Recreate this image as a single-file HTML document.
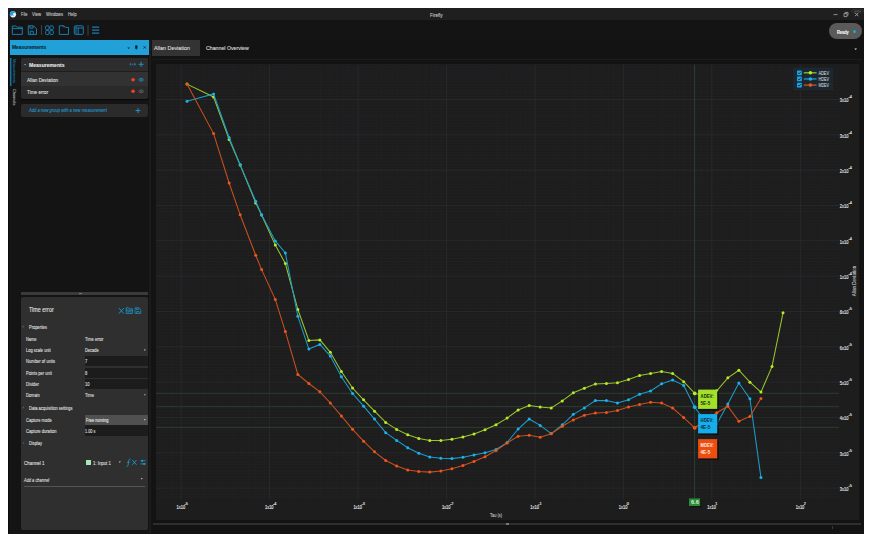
<!DOCTYPE html>
<html><head><meta charset="utf-8">
<style>
html,body{margin:0;padding:0;background:#fff;width:877px;height:543px;overflow:hidden;}
*{box-sizing:border-box;}
body{font-family:"Liberation Sans",sans-serif;color:#e6e6e6;position:relative;}
.a{position:absolute;}
.t,.v{position:absolute;white-space:nowrap;line-height:1;}
.t{transform-origin:0 50%;-webkit-text-stroke:0.08px currentColor;}
</style></head><body>
<!-- window -->
<div class="a" style="left:8px;top:8px;width:856px;height:526px;background:#131313;"></div>
<!-- title bar -->
<div class="a" style="left:8px;top:8px;width:856px;height:12px;background:#1f1f1f;"></div>
<!-- toolbar -->
<div class="a" style="left:8px;top:20px;width:856px;height:19px;background:#141414;"></div>


<!-- title content -->
<svg class="a" style="left:0;top:0" width="877" height="40" viewBox="0 0 877 40">
<circle cx="13" cy="14.3" r="3.1" fill="#e8f4fa"/>
<path d="M13 11.2a3.1 3.1 0 0 0 0 6.2a1.55 1.55 0 0 0 0-3.1a1.55 1.55 0 0 1 0-3.1z" fill="#1b9fe0" transform="rotate(90 13 14.3)"/>
<circle cx="13.1" cy="15.6" r="0.75" fill="#f0a0a0"/>
<g fill="none" stroke="#197cae" stroke-width="1">
<path d="M12.3 34.4V26h3.6l1.2 1.2h5.2v7.2z M12.3 28.6h10"/>
<path d="M28.3 25.8h5.2l3 3v5.6h-8.2z M30 25.8v2.4h3v-2.4 M30.3 34.4v-3.2h3v3.2"/>
<rect x="45.6" y="25.8" width="3.4" height="3.9" rx="0.9"/><rect x="49.9" y="25.8" width="3.4" height="3.9" rx="0.9"/>
<rect x="45.6" y="30.6" width="3.4" height="3.9" rx="0.9"/><rect x="49.9" y="30.6" width="3.4" height="3.9" rx="0.9"/>
<path d="M59.3 25.8h4.6l1.4 1.6h3.2v7h-9.2z M63.9 25.8v1.6"/>
<rect x="74.3" y="25.8" width="9" height="8.6" rx="1"/><path d="M76 26v8.2 M76 28h7.2 M78.2 28v6.2"/>
<path d="M92 27.1h7.2 M92 30.1h7.2 M92 33.1h7.2" stroke-width="1.3"/>
</g>
<path d="M41.5 25v10 M88 25v10.5" stroke="#3c3c3c" stroke-width="1.2"/>
<rect x="851.7" y="9.4" width="11.7" height="3.4" rx="0.8" fill="#262626" stroke="#3a3a3a" stroke-width="0.5"/><path d="M854 11.1h7" stroke="#777" stroke-width="0.6"/>
<path d="M833.5 14.6h4" stroke="#9a9a9a" stroke-width="0.9"/>
<path d="M844 13.6h3v3h-3z M845 13.2v-0.8h3v3h-0.6" stroke="#a8a8a8" stroke-width="0.8" fill="none"/>
<path d="M855 12.8l3.4 3.4 M858.4 12.8l-3.4 3.4" stroke="#a8a8a8" stroke-width="0.9"/>
</svg>

<!-- left panel header -->
<div class="a" style="left:10px;top:40px;width:140.5px;height:15px;background:#22a0d8;"></div>

<!-- left panel body -->
<div class="a" style="left:9px;top:55px;width:142px;height:479px;background:#141414;"></div>

<!-- measurements card -->
<div class="a" style="left:21px;top:58px;width:127px;height:41px;background:#2a2a2a;border-radius:2px;box-shadow:0 1px 1px rgba(0,0,0,0.6);"></div>
<div class="a" style="left:21px;top:58px;width:127px;height:13px;background:#2d2d2d;border-radius:2px 2px 0 0;"></div>
<div class="a" style="left:21px;top:71px;width:127px;height:1px;background:#1e1e1e;"></div>
<div class="a" style="left:21px;top:72px;width:127px;height:13.5px;background:#323232;"></div>
<!-- add card -->
<div class="a" style="left:21px;top:104px;width:127px;height:13px;background:#2b2b2b;border-radius:2px;"></div>

<!-- splitter -->
<div class="a" style="left:21px;top:292px;width:127px;height:3px;background:#3a3a3a;"></div>
<!-- time error card -->
<div class="a" style="left:21px;top:297px;width:127px;height:233px;background:#2f2f2f;border-radius:2px;"></div>


<!-- left panel content -->
<div class="a" style="left:8px;top:40px;width:1px;height:494px;background:#0c0c0c;"></div>
<svg class="a" style="left:0;top:0" width="160" height="540" viewBox="0 0 160 540">
<path d="M127.4 47.4h2.6l-1.3 1.5z" fill="#0e2230"/>
<path d="M135.5 45.8h1.6v2.6h-1.6z M136.3 48.4v1.2" stroke="#0e2230" stroke-width="0.7" fill="#0e2230"/>
<path d="M143.6 46.3l2.2 2.2 M145.8 46.3l-2.2 2.2" stroke="#0e2230" stroke-width="0.8"/>
<path d="M10.8 58v28" stroke="#1d9ad4" stroke-width="1"/>
<!-- card header icons -->
<path d="M24 65.2l1.1-1.1l1.1 1.1" stroke="#c8c8c8" stroke-width="0.6" fill="none"/>
<path d="M130 64.3h1.2 M134.3 64.3h1.2 M131.2 63l-1.2 1.3l1.2 1.3 M134.3 63l1.2 1.3l-1.2 1.3 M132 64.3h1.6" stroke="#1f9ad6" stroke-width="0.7" fill="none"/>
<path d="M138.6 64.3h5 M141.1 61.8v5" stroke="#1f9ad6" stroke-width="0.9"/>
<circle cx="133.1" cy="79.7" r="1.8" fill="#f0402a"/>
<ellipse cx="141.2" cy="79.7" rx="2.2" ry="1.4" fill="none" stroke="#1d8fc4" stroke-width="0.8"/><circle cx="141.2" cy="79.7" r="0.8" fill="#1d8fc4"/>
<circle cx="133.1" cy="91.3" r="1.8" fill="#f0402a"/>
<ellipse cx="141.2" cy="91.3" rx="2.2" ry="1.4" fill="none" stroke="#666" stroke-width="0.8"/><circle cx="141.2" cy="91.3" r="0.8" fill="#666"/>
<path d="M135.5 110.6h5 M138 108.1v5" stroke="#1f9ad6" stroke-width="0.9"/>
</svg>


<!-- vertical tabs -->
<div class="v" style="left:16.4px;top:58.6px;font-size:4.3px;color:#1d9ad4;transform-origin:0 0;transform:rotate(90deg) scaleX(0.84);">Measurements</div>
<div class="v" style="left:16.4px;top:89px;font-size:4.3px;color:#e0e0e0;transform-origin:0 0;transform:rotate(90deg) scaleX(0.9);">Channels</div>
<!-- bottom card widgets -->
<div class="a" style="left:84.6px;top:356.4px;width:63.4px;height:10.1px;background:#1c1c1c;"></div>
<div class="a" style="left:84.6px;top:367.8px;width:63.4px;height:9.9px;background:#1c1c1c;"></div>
<div class="a" style="left:84.6px;top:379px;width:63.4px;height:10px;background:#1c1c1c;"></div>
<div class="a" style="left:84.6px;top:414.6px;width:63.4px;height:10.3px;background:#505050;"></div>
<div class="a" style="left:84.6px;top:425px;width:63.4px;height:10.7px;background:#1c1c1c;"></div>
<div class="a" style="left:85.8px;top:459.7px;width:5px;height:5.5px;background:#a8e8b0;"></div>
<div class="a" style="left:24px;top:486px;width:121px;height:0.8px;background:#555;"></div>
<svg class="a" style="left:0;top:280px" width="160" height="260" viewBox="0 280 160 260">
<path d="M79 293.6h3" stroke="#8a8a8a" stroke-width="0.8"/>
<path d="M118.9 308l5 5.7 M123.9 308l-5 5.7" stroke="#1a9ad0" stroke-width="0.9"/>
<path d="M126.2 313.4v-5.6h2.4l0.8 1h3v4.6z M126.2 310.2h6.2 M127.4 311.8h4" stroke="#1a9ad0" stroke-width="0.8" fill="none"/>
<path d="M135 307.8h3.8l2 2v3.6h-5.8z M136.3 307.8v1.8h2v-1.8 M136.5 313.4v-2h2.6v2" stroke="#1a9ad0" stroke-width="0.7" fill="none"/>
<path d="M22.2 326.2l1 1l1-1" stroke="#777" stroke-width="0.5" fill="none" transform="rotate(-45 23.2 326.6)"/>
<path d="M22.2 407.1l1 1l1-1" stroke="#777" stroke-width="0.5" fill="none" transform="rotate(-45 23.2 407.5)"/>
<path d="M23 442.1l1 1l-1 1" stroke="#777" stroke-width="0.5" fill="none"/>
<path d="M143.7 349.6h2.2l-1.1 1.2z M143.7 394.4h2.2l-1.1 1.2z M143.7 419.3h2.2l-1.1 1.2z M118.7 461.6h2.2l-1.1 1.2z M140.6 478.3h2.2l-1.1 1.2z" fill="#d8d8d8"/>
<path d="M126.3 466.3c1 0.4 1.6-0.2 1.8-1.4l0.7-4.4c0.2-1.2 0.8-1.7 1.8-1.3 M126.8 462.2h2.8" stroke="#1a9ad0" stroke-width="0.8" fill="none"/>
<path d="M132.3 460l4.2 4.8 M136.5 460l-4.2 4.8" stroke="#1a9ad0" stroke-width="0.9"/>
<path d="M140.4 460.8h5.4 M140.4 463.9h5.4" stroke="#1a9ad0" stroke-width="0.8"/>
<rect x="141.2" y="459.9" width="1.8" height="1.8" fill="#1a9ad0"/><rect x="143.2" y="463" width="1.8" height="1.8" fill="#1a9ad0"/>
</svg>

<!-- tabs -->
<div class="a" style="left:152px;top:40px;width:48px;height:16px;background:#333;"></div>

<!-- chart panel -->
<div class="a" style="left:149px;top:40px;width:2px;height:493px;background:#1b1b1b;"></div>
<div class="a" style="left:153px;top:59px;width:709px;height:464px;background:#131313;border-top:1px solid #1d1d1d;"></div>
<div class="a" style="left:156px;top:64px;width:703px;height:456px;background:#1d1d1e;"></div>

<svg class="a" style="left:0;top:0" width="877" height="543" viewBox="0 0 877 543">
<path d="M159.89 64.5V499.5M166.05 64.5V499.5M171.38 64.5V499.5M176.09 64.5V499.5M204.45 64.5V499.5M220.66 64.5V499.5M232.15 64.5V499.5M241.07 64.5V499.5M248.35 64.5V499.5M254.51 64.5V499.5M259.84 64.5V499.5M264.55 64.5V499.5M292.91 64.5V499.5M309.12 64.5V499.5M320.61 64.5V499.5M329.53 64.5V499.5M336.81 64.5V499.5M342.97 64.5V499.5M348.30 64.5V499.5M353.01 64.5V499.5M381.37 64.5V499.5M397.58 64.5V499.5M409.07 64.5V499.5M417.99 64.5V499.5M425.27 64.5V499.5M431.43 64.5V499.5M436.76 64.5V499.5M441.47 64.5V499.5M469.83 64.5V499.5M486.04 64.5V499.5M497.53 64.5V499.5M506.45 64.5V499.5M513.73 64.5V499.5M519.89 64.5V499.5M525.22 64.5V499.5M529.93 64.5V499.5M558.29 64.5V499.5M574.50 64.5V499.5M585.99 64.5V499.5M594.91 64.5V499.5M602.19 64.5V499.5M608.35 64.5V499.5M613.68 64.5V499.5M618.39 64.5V499.5M646.75 64.5V499.5M662.96 64.5V499.5M674.45 64.5V499.5M683.37 64.5V499.5M690.65 64.5V499.5M696.81 64.5V499.5M702.14 64.5V499.5M706.85 64.5V499.5M735.21 64.5V499.5M751.42 64.5V499.5M762.91 64.5V499.5M771.83 64.5V499.5M779.11 64.5V499.5M785.27 64.5V499.5M790.60 64.5V499.5M795.31 64.5V499.5M823.67 64.5V499.5M156 67.11H839M156 70.06H839M156 73.00H839M156 75.95H839M156 78.89H839M156 81.84H839M156 84.78H839M156 87.72H839M156 90.67H839M156 93.61H839M156 96.56H839M156 102.44H839M156 105.39H839M156 108.33H839M156 111.28H839M156 114.22H839M156 117.16H839M156 120.11H839M156 123.05H839M156 126.00H839M156 128.94H839M156 131.89H839M156 137.77H839M156 140.72H839M156 143.66H839M156 146.61H839M156 149.55H839M156 152.49H839M156 155.44H839M156 158.38H839M156 161.33H839M156 164.27H839M156 167.22H839M156 173.10H839M156 176.05H839M156 178.99H839M156 181.94H839M156 184.88H839M156 187.82H839M156 190.77H839M156 193.71H839M156 196.66H839M156 199.60H839M156 202.55H839M156 208.43H839M156 211.38H839M156 214.32H839M156 217.27H839M156 220.21H839M156 223.16H839M156 226.10H839M156 229.04H839M156 231.99H839M156 234.93H839M156 237.88H839M156 243.76H839M156 246.71H839M156 249.65H839M156 252.60H839M156 255.54H839M156 258.49H839M156 261.43H839M156 264.37H839M156 267.32H839M156 270.26H839M156 273.21H839M156 279.09H839M156 282.04H839M156 284.98H839M156 287.93H839M156 290.87H839M156 293.81H839M156 296.76H839M156 299.70H839M156 302.65H839M156 305.59H839M156 308.54H839M156 314.42H839M156 317.37H839M156 320.31H839M156 323.26H839M156 326.20H839M156 329.15H839M156 332.09H839M156 335.03H839M156 337.98H839M156 340.92H839M156 343.87H839M156 349.75H839M156 352.70H839M156 355.64H839M156 358.59H839M156 361.53H839M156 364.48H839M156 367.42H839M156 370.36H839M156 373.31H839M156 376.25H839M156 379.20H839M156 385.08H839M156 388.03H839M156 390.97H839M156 393.92H839M156 396.86H839M156 399.81H839M156 402.75H839M156 405.69H839M156 408.64H839M156 411.58H839M156 414.53H839M156 420.41H839M156 423.36H839M156 426.30H839M156 429.25H839M156 432.19H839M156 435.13H839M156 438.08H839M156 441.02H839M156 443.97H839M156 446.91H839M156 449.86H839M156 455.74H839M156 458.69H839M156 461.63H839M156 464.58H839M156 467.52H839M156 470.46H839M156 473.41H839M156 476.35H839M156 479.30H839M156 482.24H839M156 485.19H839M156 491.07H839M156 494.02H839M156 496.96H839" stroke="#212122" stroke-width="1" fill="none"/>
<path d="M181.10 64.5V499.5M269.56 64.5V499.5M358.02 64.5V499.5M446.48 64.5V499.5M534.94 64.5V499.5M623.40 64.5V499.5M711.86 64.5V499.5M800.32 64.5V499.5M156 99.50H839M156 134.83H839M156 170.16H839M156 205.49H839M156 240.82H839M156 276.15H839M156 311.48H839M156 346.81H839M156 382.14H839M156 417.47H839M156 452.80H839M156 488.13H839" stroke="#29292b" stroke-width="1" fill="none"/>
<path d="M156 393.3H839M156 406.7H839M156 427.4H839" stroke="#2b3d2e" stroke-width="1" fill="none"/>
<path d="M694.6 64.5V498" stroke="#274330" stroke-width="1" fill="none"/>
<polyline points="187.00,84.1 213.58,97.0 229.13,139.4 240.16,165.1 255.71,202.9 261.62,215 275.30,245.1 285.36,263.5 297.84,309.5 308.87,340.4 319.90,339.9 330.33,352.3 341.37,371.5 352.57,388 363.60,399.8 374.54,411.2 385.71,422.4 396.69,429.4 407.72,434.7 418.82,438.4 429.80,440.4 440.87,440.4 451.90,439.3 462.95,437.1 473.97,434 485.01,429.7 496.05,424.8 507.09,418.1 518.12,410 529.16,405.5 540.20,407 551.24,407.9 562.28,400.9 573.31,392.8 584.35,388.2 595.39,384 606.42,383.5 617.46,382.8 628.50,379.5 639.54,375.4 650.58,373.4 661.61,371.5 672.65,373.4 683.69,381.7 694.72,393.4 705.76,396 716.80,390.8 727.84,377.8 738.87,370.2 749.91,382.2 760.95,392.1 771.99,366.6 783.02,312.8" fill="none" stroke="#98c52c" stroke-width="1.05"/><circle cx="187.00" cy="84.1" r="1.5" fill="#b6ec22"/><circle cx="213.58" cy="97.0" r="1.5" fill="#b6ec22"/><circle cx="229.13" cy="139.4" r="1.5" fill="#b6ec22"/><circle cx="240.16" cy="165.1" r="1.5" fill="#b6ec22"/><circle cx="255.71" cy="202.9" r="1.5" fill="#b6ec22"/><circle cx="261.62" cy="215" r="1.5" fill="#b6ec22"/><circle cx="275.30" cy="245.1" r="1.5" fill="#b6ec22"/><circle cx="285.36" cy="263.5" r="1.5" fill="#b6ec22"/><circle cx="297.84" cy="309.5" r="1.5" fill="#b6ec22"/><circle cx="308.87" cy="340.4" r="1.5" fill="#b6ec22"/><circle cx="319.90" cy="339.9" r="1.5" fill="#b6ec22"/><circle cx="330.33" cy="352.3" r="1.5" fill="#b6ec22"/><circle cx="341.37" cy="371.5" r="1.5" fill="#b6ec22"/><circle cx="352.57" cy="388" r="1.5" fill="#b6ec22"/><circle cx="363.60" cy="399.8" r="1.5" fill="#b6ec22"/><circle cx="374.54" cy="411.2" r="1.5" fill="#b6ec22"/><circle cx="385.71" cy="422.4" r="1.5" fill="#b6ec22"/><circle cx="396.69" cy="429.4" r="1.5" fill="#b6ec22"/><circle cx="407.72" cy="434.7" r="1.5" fill="#b6ec22"/><circle cx="418.82" cy="438.4" r="1.5" fill="#b6ec22"/><circle cx="429.80" cy="440.4" r="1.5" fill="#b6ec22"/><circle cx="440.87" cy="440.4" r="1.5" fill="#b6ec22"/><circle cx="451.90" cy="439.3" r="1.5" fill="#b6ec22"/><circle cx="462.95" cy="437.1" r="1.5" fill="#b6ec22"/><circle cx="473.97" cy="434" r="1.5" fill="#b6ec22"/><circle cx="485.01" cy="429.7" r="1.5" fill="#b6ec22"/><circle cx="496.05" cy="424.8" r="1.5" fill="#b6ec22"/><circle cx="507.09" cy="418.1" r="1.5" fill="#b6ec22"/><circle cx="518.12" cy="410" r="1.5" fill="#b6ec22"/><circle cx="529.16" cy="405.5" r="1.5" fill="#b6ec22"/><circle cx="540.20" cy="407" r="1.5" fill="#b6ec22"/><circle cx="551.24" cy="407.9" r="1.5" fill="#b6ec22"/><circle cx="562.28" cy="400.9" r="1.5" fill="#b6ec22"/><circle cx="573.31" cy="392.8" r="1.5" fill="#b6ec22"/><circle cx="584.35" cy="388.2" r="1.5" fill="#b6ec22"/><circle cx="595.39" cy="384" r="1.5" fill="#b6ec22"/><circle cx="606.42" cy="383.5" r="1.5" fill="#b6ec22"/><circle cx="617.46" cy="382.8" r="1.5" fill="#b6ec22"/><circle cx="628.50" cy="379.5" r="1.5" fill="#b6ec22"/><circle cx="639.54" cy="375.4" r="1.5" fill="#b6ec22"/><circle cx="650.58" cy="373.4" r="1.5" fill="#b6ec22"/><circle cx="661.61" cy="371.5" r="1.5" fill="#b6ec22"/><circle cx="672.65" cy="373.4" r="1.5" fill="#b6ec22"/><circle cx="683.69" cy="381.7" r="1.5" fill="#b6ec22"/><circle cx="694.72" cy="393.4" r="1.9" fill="#b6ec22"/><circle cx="705.76" cy="396" r="1.5" fill="#b6ec22"/><circle cx="716.80" cy="390.8" r="1.5" fill="#b6ec22"/><circle cx="727.84" cy="377.8" r="1.5" fill="#b6ec22"/><circle cx="738.87" cy="370.2" r="1.5" fill="#b6ec22"/><circle cx="749.91" cy="382.2" r="1.5" fill="#b6ec22"/><circle cx="760.95" cy="392.1" r="1.5" fill="#b6ec22"/><circle cx="771.99" cy="366.6" r="1.5" fill="#b6ec22"/><circle cx="783.02" cy="312.8" r="1.5" fill="#b6ec22"/>
<polyline points="187.00,101.2 213.58,94.0 229.13,137.5 240.16,164.6 255.71,201.2 261.62,214.7 275.30,240.9 285.36,253.0 297.84,316.3 308.87,349.1 319.90,344.5 330.33,356.1 341.37,376.7 352.57,393.5 363.60,406.2 374.54,419.1 385.71,432.7 396.69,440.4 407.72,447.8 418.82,453.3 429.80,457 440.87,458.3 451.90,458.6 462.95,457.3 473.97,455.1 485.01,452.7 496.05,449.4 507.09,442.6 518.12,429 529.16,419 540.20,425.4 551.24,433.6 562.28,424.8 573.31,414.3 584.35,407.9 595.39,400.6 606.42,400.6 617.46,403 628.50,399.7 639.54,394.2 650.58,390.9 661.61,383.7 672.65,380 683.69,385.4 694.72,407.2 705.76,422 716.80,424 727.84,403.9 738.87,383 749.91,398.7 760.95,477.4" fill="none" stroke="#1d9ccc" stroke-width="1.05"/><circle cx="187.00" cy="101.2" r="1.5" fill="#18b2ee"/><circle cx="213.58" cy="94.0" r="1.5" fill="#18b2ee"/><circle cx="229.13" cy="137.5" r="1.5" fill="#18b2ee"/><circle cx="240.16" cy="164.6" r="1.5" fill="#18b2ee"/><circle cx="255.71" cy="201.2" r="1.5" fill="#18b2ee"/><circle cx="261.62" cy="214.7" r="1.5" fill="#18b2ee"/><circle cx="275.30" cy="240.9" r="1.5" fill="#18b2ee"/><circle cx="285.36" cy="253.0" r="1.5" fill="#18b2ee"/><circle cx="297.84" cy="316.3" r="1.5" fill="#18b2ee"/><circle cx="308.87" cy="349.1" r="1.5" fill="#18b2ee"/><circle cx="319.90" cy="344.5" r="1.5" fill="#18b2ee"/><circle cx="330.33" cy="356.1" r="1.5" fill="#18b2ee"/><circle cx="341.37" cy="376.7" r="1.5" fill="#18b2ee"/><circle cx="352.57" cy="393.5" r="1.5" fill="#18b2ee"/><circle cx="363.60" cy="406.2" r="1.5" fill="#18b2ee"/><circle cx="374.54" cy="419.1" r="1.5" fill="#18b2ee"/><circle cx="385.71" cy="432.7" r="1.5" fill="#18b2ee"/><circle cx="396.69" cy="440.4" r="1.5" fill="#18b2ee"/><circle cx="407.72" cy="447.8" r="1.5" fill="#18b2ee"/><circle cx="418.82" cy="453.3" r="1.5" fill="#18b2ee"/><circle cx="429.80" cy="457" r="1.5" fill="#18b2ee"/><circle cx="440.87" cy="458.3" r="1.5" fill="#18b2ee"/><circle cx="451.90" cy="458.6" r="1.5" fill="#18b2ee"/><circle cx="462.95" cy="457.3" r="1.5" fill="#18b2ee"/><circle cx="473.97" cy="455.1" r="1.5" fill="#18b2ee"/><circle cx="485.01" cy="452.7" r="1.5" fill="#18b2ee"/><circle cx="496.05" cy="449.4" r="1.5" fill="#18b2ee"/><circle cx="507.09" cy="442.6" r="1.5" fill="#18b2ee"/><circle cx="518.12" cy="429" r="1.5" fill="#18b2ee"/><circle cx="529.16" cy="419" r="1.5" fill="#18b2ee"/><circle cx="540.20" cy="425.4" r="1.5" fill="#18b2ee"/><circle cx="551.24" cy="433.6" r="1.5" fill="#18b2ee"/><circle cx="562.28" cy="424.8" r="1.5" fill="#18b2ee"/><circle cx="573.31" cy="414.3" r="1.5" fill="#18b2ee"/><circle cx="584.35" cy="407.9" r="1.5" fill="#18b2ee"/><circle cx="595.39" cy="400.6" r="1.5" fill="#18b2ee"/><circle cx="606.42" cy="400.6" r="1.5" fill="#18b2ee"/><circle cx="617.46" cy="403" r="1.5" fill="#18b2ee"/><circle cx="628.50" cy="399.7" r="1.5" fill="#18b2ee"/><circle cx="639.54" cy="394.2" r="1.5" fill="#18b2ee"/><circle cx="650.58" cy="390.9" r="1.5" fill="#18b2ee"/><circle cx="661.61" cy="383.7" r="1.5" fill="#18b2ee"/><circle cx="672.65" cy="380" r="1.5" fill="#18b2ee"/><circle cx="683.69" cy="385.4" r="1.5" fill="#18b2ee"/><circle cx="694.72" cy="407.2" r="1.9" fill="#18b2ee"/><circle cx="705.76" cy="422" r="1.5" fill="#18b2ee"/><circle cx="716.80" cy="424" r="1.5" fill="#18b2ee"/><circle cx="727.84" cy="403.9" r="1.5" fill="#18b2ee"/><circle cx="738.87" cy="383" r="1.5" fill="#18b2ee"/><circle cx="749.91" cy="398.7" r="1.5" fill="#18b2ee"/><circle cx="760.95" cy="477.4" r="1.5" fill="#18b2ee"/>
<polyline points="187.00,84.1 213.58,133.6 229.13,183.0 240.16,214.8 255.71,255.2 261.62,269.6 275.30,299.4 285.36,331.6 297.84,374.4 308.87,383.5 319.90,391.8 330.33,403 341.37,415.9 352.57,429.3 363.60,441.2 374.54,451.8 385.71,460.5 396.69,466 407.72,469.9 418.82,471.5 429.80,472.1 440.87,471 451.90,468.8 462.95,465.6 473.97,461.4 485.01,456.8 496.05,450.5 507.09,443 518.12,436.3 529.16,435.3 540.20,437.3 551.24,433.7 562.28,426.3 573.31,419.9 584.35,415.2 595.39,413.1 606.42,412.6 617.46,410.4 628.50,407.1 639.54,404.5 650.58,402.3 661.61,403 672.65,408 683.69,417.6 694.72,427.8 705.76,420 716.80,412.8 727.84,406.2 738.87,421.3 749.91,416.4 760.95,398.4" fill="none" stroke="#c9501e" stroke-width="1.05"/><circle cx="187.00" cy="84.1" r="1.5" fill="#f2541a"/><circle cx="213.58" cy="133.6" r="1.5" fill="#f2541a"/><circle cx="229.13" cy="183.0" r="1.5" fill="#f2541a"/><circle cx="240.16" cy="214.8" r="1.5" fill="#f2541a"/><circle cx="255.71" cy="255.2" r="1.5" fill="#f2541a"/><circle cx="261.62" cy="269.6" r="1.5" fill="#f2541a"/><circle cx="275.30" cy="299.4" r="1.5" fill="#f2541a"/><circle cx="285.36" cy="331.6" r="1.5" fill="#f2541a"/><circle cx="297.84" cy="374.4" r="1.5" fill="#f2541a"/><circle cx="308.87" cy="383.5" r="1.5" fill="#f2541a"/><circle cx="319.90" cy="391.8" r="1.5" fill="#f2541a"/><circle cx="330.33" cy="403" r="1.5" fill="#f2541a"/><circle cx="341.37" cy="415.9" r="1.5" fill="#f2541a"/><circle cx="352.57" cy="429.3" r="1.5" fill="#f2541a"/><circle cx="363.60" cy="441.2" r="1.5" fill="#f2541a"/><circle cx="374.54" cy="451.8" r="1.5" fill="#f2541a"/><circle cx="385.71" cy="460.5" r="1.5" fill="#f2541a"/><circle cx="396.69" cy="466" r="1.5" fill="#f2541a"/><circle cx="407.72" cy="469.9" r="1.5" fill="#f2541a"/><circle cx="418.82" cy="471.5" r="1.5" fill="#f2541a"/><circle cx="429.80" cy="472.1" r="1.5" fill="#f2541a"/><circle cx="440.87" cy="471" r="1.5" fill="#f2541a"/><circle cx="451.90" cy="468.8" r="1.5" fill="#f2541a"/><circle cx="462.95" cy="465.6" r="1.5" fill="#f2541a"/><circle cx="473.97" cy="461.4" r="1.5" fill="#f2541a"/><circle cx="485.01" cy="456.8" r="1.5" fill="#f2541a"/><circle cx="496.05" cy="450.5" r="1.5" fill="#f2541a"/><circle cx="507.09" cy="443" r="1.5" fill="#f2541a"/><circle cx="518.12" cy="436.3" r="1.5" fill="#f2541a"/><circle cx="529.16" cy="435.3" r="1.5" fill="#f2541a"/><circle cx="540.20" cy="437.3" r="1.5" fill="#f2541a"/><circle cx="551.24" cy="433.7" r="1.5" fill="#f2541a"/><circle cx="562.28" cy="426.3" r="1.5" fill="#f2541a"/><circle cx="573.31" cy="419.9" r="1.5" fill="#f2541a"/><circle cx="584.35" cy="415.2" r="1.5" fill="#f2541a"/><circle cx="595.39" cy="413.1" r="1.5" fill="#f2541a"/><circle cx="606.42" cy="412.6" r="1.5" fill="#f2541a"/><circle cx="617.46" cy="410.4" r="1.5" fill="#f2541a"/><circle cx="628.50" cy="407.1" r="1.5" fill="#f2541a"/><circle cx="639.54" cy="404.5" r="1.5" fill="#f2541a"/><circle cx="650.58" cy="402.3" r="1.5" fill="#f2541a"/><circle cx="661.61" cy="403" r="1.5" fill="#f2541a"/><circle cx="672.65" cy="408" r="1.5" fill="#f2541a"/><circle cx="683.69" cy="417.6" r="1.5" fill="#f2541a"/><circle cx="694.72" cy="427.8" r="1.9" fill="#f2541a"/><circle cx="705.76" cy="420" r="1.5" fill="#f2541a"/><circle cx="716.80" cy="412.8" r="1.5" fill="#f2541a"/><circle cx="727.84" cy="406.2" r="1.5" fill="#f2541a"/><circle cx="738.87" cy="421.3" r="1.5" fill="#f2541a"/><circle cx="749.91" cy="416.4" r="1.5" fill="#f2541a"/><circle cx="760.95" cy="398.4" r="1.5" fill="#f2541a"/>
<text x="176.50" y="508.8" font-size="5.6" textLength="8.6" lengthAdjust="spacingAndGlyphs" font-family="Liberation Sans" fill="#f2f2f2" stroke="#f2f2f2" stroke-width="0.12">1x10</text><text x="184.50" y="504.6" font-size="3.8" font-family="Liberation Sans" fill="#f2f2f2" stroke="#f2f2f2" stroke-width="0.12">-5</text>
<text x="264.96" y="508.8" font-size="5.6" textLength="8.6" lengthAdjust="spacingAndGlyphs" font-family="Liberation Sans" fill="#f2f2f2" stroke="#f2f2f2" stroke-width="0.12">1x10</text><text x="272.96" y="504.6" font-size="3.8" font-family="Liberation Sans" fill="#f2f2f2" stroke="#f2f2f2" stroke-width="0.12">-4</text>
<text x="353.42" y="508.8" font-size="5.6" textLength="8.6" lengthAdjust="spacingAndGlyphs" font-family="Liberation Sans" fill="#f2f2f2" stroke="#f2f2f2" stroke-width="0.12">1x10</text><text x="361.42" y="504.6" font-size="3.8" font-family="Liberation Sans" fill="#f2f2f2" stroke="#f2f2f2" stroke-width="0.12">-3</text>
<text x="441.88" y="508.8" font-size="5.6" textLength="8.6" lengthAdjust="spacingAndGlyphs" font-family="Liberation Sans" fill="#f2f2f2" stroke="#f2f2f2" stroke-width="0.12">1x10</text><text x="449.88" y="504.6" font-size="3.8" font-family="Liberation Sans" fill="#f2f2f2" stroke="#f2f2f2" stroke-width="0.12">-2</text>
<text x="530.34" y="508.8" font-size="5.6" textLength="8.6" lengthAdjust="spacingAndGlyphs" font-family="Liberation Sans" fill="#f2f2f2" stroke="#f2f2f2" stroke-width="0.12">1x10</text><text x="538.34" y="504.6" font-size="3.8" font-family="Liberation Sans" fill="#f2f2f2" stroke="#f2f2f2" stroke-width="0.12">-1</text>
<text x="618.80" y="508.8" font-size="5.6" textLength="8.6" lengthAdjust="spacingAndGlyphs" font-family="Liberation Sans" fill="#f2f2f2" stroke="#f2f2f2" stroke-width="0.12">1x10</text><text x="626.80" y="504.6" font-size="3.8" font-family="Liberation Sans" fill="#f2f2f2" stroke="#f2f2f2" stroke-width="0.12">0</text>
<text x="707.26" y="508.8" font-size="5.6" textLength="8.6" lengthAdjust="spacingAndGlyphs" font-family="Liberation Sans" fill="#f2f2f2" stroke="#f2f2f2" stroke-width="0.12">1x10</text><text x="715.26" y="504.6" font-size="3.8" font-family="Liberation Sans" fill="#f2f2f2" stroke="#f2f2f2" stroke-width="0.12">1</text>
<text x="795.72" y="508.8" font-size="5.6" textLength="8.6" lengthAdjust="spacingAndGlyphs" font-family="Liberation Sans" fill="#f2f2f2" stroke="#f2f2f2" stroke-width="0.12">1x10</text><text x="803.72" y="504.6" font-size="3.8" font-family="Liberation Sans" fill="#f2f2f2" stroke="#f2f2f2" stroke-width="0.12">2</text>
<text x="839.8" y="102.30" font-size="5.6" textLength="8.6" lengthAdjust="spacingAndGlyphs" font-family="Liberation Sans" fill="#f2f2f2" stroke="#f2f2f2" stroke-width="0.12">3x10</text><text x="848.6" y="98.30" font-size="3.8" font-family="Liberation Sans" fill="#f2f2f2" stroke="#f2f2f2" stroke-width="0.12">-4</text>
<text x="839.8" y="137.63" font-size="5.6" textLength="8.6" lengthAdjust="spacingAndGlyphs" font-family="Liberation Sans" fill="#f2f2f2" stroke="#f2f2f2" stroke-width="0.12">3x10</text><text x="848.6" y="133.63" font-size="3.8" font-family="Liberation Sans" fill="#f2f2f2" stroke="#f2f2f2" stroke-width="0.12">-4</text>
<text x="839.8" y="172.96" font-size="5.6" textLength="8.6" lengthAdjust="spacingAndGlyphs" font-family="Liberation Sans" fill="#f2f2f2" stroke="#f2f2f2" stroke-width="0.12">2x10</text><text x="848.6" y="168.96" font-size="3.8" font-family="Liberation Sans" fill="#f2f2f2" stroke="#f2f2f2" stroke-width="0.12">-4</text>
<text x="839.8" y="208.29" font-size="5.6" textLength="8.6" lengthAdjust="spacingAndGlyphs" font-family="Liberation Sans" fill="#f2f2f2" stroke="#f2f2f2" stroke-width="0.12">2x10</text><text x="848.6" y="204.29" font-size="3.8" font-family="Liberation Sans" fill="#f2f2f2" stroke="#f2f2f2" stroke-width="0.12">-4</text>
<text x="839.8" y="243.62" font-size="5.6" textLength="8.6" lengthAdjust="spacingAndGlyphs" font-family="Liberation Sans" fill="#f2f2f2" stroke="#f2f2f2" stroke-width="0.12">1x10</text><text x="848.6" y="239.62" font-size="3.8" font-family="Liberation Sans" fill="#f2f2f2" stroke="#f2f2f2" stroke-width="0.12">-4</text>
<text x="839.8" y="278.95" font-size="5.6" textLength="8.6" lengthAdjust="spacingAndGlyphs" font-family="Liberation Sans" fill="#f2f2f2" stroke="#f2f2f2" stroke-width="0.12">1x10</text><text x="848.6" y="274.95" font-size="3.8" font-family="Liberation Sans" fill="#f2f2f2" stroke="#f2f2f2" stroke-width="0.12">-4</text>
<text x="839.8" y="314.28" font-size="5.6" textLength="8.6" lengthAdjust="spacingAndGlyphs" font-family="Liberation Sans" fill="#f2f2f2" stroke="#f2f2f2" stroke-width="0.12">8x10</text><text x="848.6" y="310.28" font-size="3.8" font-family="Liberation Sans" fill="#f2f2f2" stroke="#f2f2f2" stroke-width="0.12">-5</text>
<text x="839.8" y="349.61" font-size="5.6" textLength="8.6" lengthAdjust="spacingAndGlyphs" font-family="Liberation Sans" fill="#f2f2f2" stroke="#f2f2f2" stroke-width="0.12">6x10</text><text x="848.6" y="345.61" font-size="3.8" font-family="Liberation Sans" fill="#f2f2f2" stroke="#f2f2f2" stroke-width="0.12">-5</text>
<text x="839.8" y="384.94" font-size="5.6" textLength="8.6" lengthAdjust="spacingAndGlyphs" font-family="Liberation Sans" fill="#f2f2f2" stroke="#f2f2f2" stroke-width="0.12">5x10</text><text x="848.6" y="380.94" font-size="3.8" font-family="Liberation Sans" fill="#f2f2f2" stroke="#f2f2f2" stroke-width="0.12">-5</text>
<text x="839.8" y="420.27" font-size="5.6" textLength="8.6" lengthAdjust="spacingAndGlyphs" font-family="Liberation Sans" fill="#f2f2f2" stroke="#f2f2f2" stroke-width="0.12">4x10</text><text x="848.6" y="416.27" font-size="3.8" font-family="Liberation Sans" fill="#f2f2f2" stroke="#f2f2f2" stroke-width="0.12">-5</text>
<text x="839.8" y="455.60" font-size="5.6" textLength="8.6" lengthAdjust="spacingAndGlyphs" font-family="Liberation Sans" fill="#f2f2f2" stroke="#f2f2f2" stroke-width="0.12">3x10</text><text x="848.6" y="451.60" font-size="3.8" font-family="Liberation Sans" fill="#f2f2f2" stroke="#f2f2f2" stroke-width="0.12">-5</text>
<text x="839.8" y="490.93" font-size="5.6" textLength="8.6" lengthAdjust="spacingAndGlyphs" font-family="Liberation Sans" fill="#f2f2f2" stroke="#f2f2f2" stroke-width="0.12">3x10</text><text x="848.6" y="486.93" font-size="3.8" font-family="Liberation Sans" fill="#f2f2f2" stroke="#f2f2f2" stroke-width="0.12">-5</text>
<text x="490" y="517" font-size="4.8" textLength="12" lengthAdjust="spacingAndGlyphs" font-family="Liberation Sans" fill="#e0e0e0">Tau (s)</text>
<text transform="translate(856.3 296.2) rotate(-90)" font-size="4.6" textLength="30.5" lengthAdjust="spacingAndGlyphs" font-family="Liberation Sans" fill="#e0e0e0">Allan Deviation</text>
<rect x="793" y="68" width="40" height="22" fill="#1b2832"/>
<rect x="797" y="70.40" width="4.8" height="4.8" rx="0.6" fill="#1ea4e4"/>
<path d="M798 72.80l1 1l1.8-2" stroke="#0b1a26" stroke-width="0.8" fill="none"/>
<path d="M803.8 72.80H816.6" stroke="#8fc02a" stroke-width="1.3"/>
<circle cx="810.4" cy="72.80" r="1.8" fill="#b6ec22"/>
<text x="818.4" y="74.60" font-size="5" textLength="10.6" lengthAdjust="spacingAndGlyphs" font-family="Liberation Sans" fill="#e0e0e0">ADEV</text>
<rect x="797" y="76.55" width="4.8" height="4.8" rx="0.6" fill="#1ea4e4"/>
<path d="M798 78.95l1 1l1.8-2" stroke="#0b1a26" stroke-width="0.8" fill="none"/>
<path d="M803.8 78.95H816.6" stroke="#1d9ccc" stroke-width="1.3"/>
<circle cx="810.4" cy="78.95" r="1.8" fill="#18b2ee"/>
<text x="818.4" y="80.75" font-size="5" textLength="10.6" lengthAdjust="spacingAndGlyphs" font-family="Liberation Sans" fill="#e0e0e0">HDEV</text>
<rect x="797" y="82.70" width="4.8" height="4.8" rx="0.6" fill="#1ea4e4"/>
<path d="M798 85.10l1 1l1.8-2" stroke="#0b1a26" stroke-width="0.8" fill="none"/>
<path d="M803.8 85.10H816.6" stroke="#c9501e" stroke-width="1.3"/>
<circle cx="810.4" cy="85.10" r="1.8" fill="#f2541a"/>
<text x="818.4" y="86.90" font-size="5" textLength="10.6" lengthAdjust="spacingAndGlyphs" font-family="Liberation Sans" fill="#e0e0e0">MDEV</text>
<rect x="699.5" y="391.10" width="19.2" height="19.4" fill="#0a0a0a" opacity="0.7"/>
<rect x="698.1" y="389.60" width="19.1" height="19.3" fill="#a2e02a"/>
<text x="700.6" y="397.60" font-size="5" textLength="13" lengthAdjust="spacingAndGlyphs" fill="#1c2a0c" font-weight="bold" font-family="Liberation Sans">ADEV:</text>
<text x="700.6" y="404.60" font-size="5" textLength="9.6" lengthAdjust="spacingAndGlyphs" fill="#1c2a0c" font-weight="bold" font-family="Liberation Sans">5E-5</text>
<rect x="699.5" y="415.60" width="19.2" height="19.4" fill="#0a0a0a" opacity="0.7"/>
<rect x="698.1" y="414.10" width="19.1" height="19.3" fill="#16aee9"/>
<text x="700.6" y="422.10" font-size="5" textLength="13" lengthAdjust="spacingAndGlyphs" fill="#0b2a3a" font-weight="bold" font-family="Liberation Sans">HDEV:</text>
<text x="700.6" y="429.10" font-size="5" textLength="9.6" lengthAdjust="spacingAndGlyphs" fill="#0b2a3a" font-weight="bold" font-family="Liberation Sans">4E-5</text>
<rect x="699.5" y="440.60" width="19.2" height="19.4" fill="#0a0a0a" opacity="0.7"/>
<rect x="698.1" y="439.10" width="19.1" height="19.3" fill="#ec4e10"/>
<text x="700.6" y="447.10" font-size="5" textLength="13" lengthAdjust="spacingAndGlyphs" fill="#ffe8e0" font-weight="bold" font-family="Liberation Sans">MDEV:</text>
<text x="700.6" y="454.10" font-size="5" textLength="9.6" lengthAdjust="spacingAndGlyphs" fill="#ffe8e0" font-weight="bold" font-family="Liberation Sans">4E-5</text>
<rect x="690" y="499.5" width="11.4" height="7.8" fill="#0a0a0a" opacity="0.6"/>
<rect x="689" y="498.4" width="11.2" height="7.6" fill="#2b8c38"/>
<text x="691" y="504.2" font-size="5" textLength="7.8" lengthAdjust="spacingAndGlyphs" fill="#dff0df" font-weight="bold" font-family="Liberation Sans">6.6</text>
</svg>
<svg class="a" style="left:850px;top:45px" width="10" height="8" viewBox="850 45 10 8"><path d="M854.4 48.4h2.6l-1.3 1.5z" fill="#e0e0e0"/></svg>
<!-- bottom scrollbar -->
<div class="a" style="left:153px;top:523px;width:708px;height:2px;background:#2e2e2e;"></div>
<div class="a" style="left:505.5px;top:523.4px;width:3.5px;height:1.2px;background:#777;"></div>
<div class="a" style="left:831.6px;top:526px;width:0.9px;height:2.6px;background:#3a3a3a;"></div>

<!-- Ready pill -->
<div class="a" style="left:829px;top:23px;width:33px;height:16px;background:#5a5a5a;border-radius:8px;"></div>
<div class="a" style="left:853px;top:29.5px;width:3px;height:3px;background:#12a8e8;border-radius:50%;"></div>

<div class="t" style="left:20.5px;top:13.36px;font-size:4.8px;color:#cfcfcf;transform:scaleX(0.8275);">File</div>
<div class="t" style="left:31.9px;top:13.36px;font-size:4.8px;color:#cfcfcf;transform:scaleX(0.8824);">View</div>
<div class="t" style="left:46px;top:13.36px;font-size:4.8px;color:#cfcfcf;transform:scaleX(0.8732);">Windows</div>
<div class="t" style="left:68.4px;top:13.36px;font-size:4.8px;color:#cfcfcf;transform:scaleX(0.8709);">Help</div>
<div class="t" style="left:429.5px;top:13.04px;font-size:5.2px;color:#d0d0d0;transform:scaleX(0.8991);">Firefly</div>
<div class="t" style="left:12.1px;top:44.32px;font-size:6.2px;color:#0a1f2c;font-weight:bold;transform:scaleX(0.7913);">Measurements</div>
<div class="t" style="left:29px;top:61.68px;font-size:6.0px;color:#ececec;font-weight:bold;transform:scaleX(0.8446);">Measurements</div>
<div class="t" style="left:27px;top:77.74px;font-size:5.2px;color:#e2e2e2;transform:scaleX(0.8986);">Allan Deviation</div>
<div class="t" style="left:27px;top:89.64px;font-size:5.2px;color:#e2e2e2;transform:scaleX(0.8932);">Time error</div>
<div class="t" style="left:29px;top:109.16px;font-size:4.8px;color:#1f9ad6;font-style:italic;transform:scaleX(0.8555);">Add a new group with a new measurement</div>
<div class="t" style="left:154px;top:44.92px;font-size:6.2px;color:#e0e0e0;transform:scaleX(0.8721);">Allan Deviation</div>
<div class="t" style="left:205.7px;top:44.92px;font-size:6.2px;color:#e0e0e0;transform:scaleX(0.8445);">Channel Overview</div>
<div class="t" style="left:837px;top:29.74px;font-size:5.2px;color:#ffffff;font-weight:bold;transform:scaleX(0.7511);">Ready</div>
<div class="t" style="left:28.6px;top:306.89px;font-size:6.6px;color:#e8e8e8;transform:scaleX(0.8186);">Time error</div>
<div class="t" style="left:29px;top:325.66px;font-size:4.8px;color:#e0e0e0;transform:scaleX(0.8229);">Properties</div>
<div class="t" style="left:26px;top:338.06px;font-size:4.8px;color:#e0e0e0;transform:scaleX(0.8205);">Name</div>
<div class="t" style="left:26px;top:349.26px;font-size:4.8px;color:#e0e0e0;transform:scaleX(0.8308);">Log scale unit</div>
<div class="t" style="left:26px;top:360.46px;font-size:4.8px;color:#e0e0e0;transform:scaleX(0.8594);">Number of units</div>
<div class="t" style="left:26px;top:371.56px;font-size:4.8px;color:#e0e0e0;transform:scaleX(0.8412);">Points per unit</div>
<div class="t" style="left:26px;top:382.86px;font-size:4.8px;color:#e0e0e0;transform:scaleX(0.8569);">Divider</div>
<div class="t" style="left:26px;top:394.06px;font-size:4.8px;color:#e0e0e0;transform:scaleX(0.8287);">Domain</div>
<div class="t" style="left:84.9px;top:338.06px;font-size:4.8px;color:#e0e0e0;transform:scaleX(0.8381);">Time error</div>
<div class="t" style="left:84.9px;top:349.26px;font-size:4.8px;color:#e0e0e0;transform:scaleX(0.8280);">Decade</div>
<div class="t" style="left:84.9px;top:360.46px;font-size:4.8px;color:#e0e0e0;transform:scaleX(0.8608);">7</div>
<div class="t" style="left:84.9px;top:371.56px;font-size:4.8px;color:#e0e0e0;transform:scaleX(0.8608);">8</div>
<div class="t" style="left:84.9px;top:382.86px;font-size:4.8px;color:#e0e0e0;transform:scaleX(0.8795);">10</div>
<div class="t" style="left:84.9px;top:394.06px;font-size:4.8px;color:#e0e0e0;transform:scaleX(0.8489);">Time</div>
<div class="t" style="left:28.8px;top:406.56px;font-size:4.8px;color:#e0e0e0;transform:scaleX(0.8385);">Data acquisition settings</div>
<div class="t" style="left:26px;top:418.96px;font-size:4.8px;color:#e0e0e0;transform:scaleX(0.8452);">Capture mode</div>
<div class="t" style="left:26px;top:430.26px;font-size:4.8px;color:#e0e0e0;transform:scaleX(0.8535);">Capture duration</div>
<div class="t" style="left:85.5px;top:418.96px;font-size:4.8px;color:#f0f0f0;transform:scaleX(0.8234);">Free running</div>
<div class="t" style="left:85.3px;top:430.06px;font-size:4.8px;color:#e0e0e0;transform:scaleX(0.8029);">1.00 s</div>
<div class="t" style="left:28.8px;top:442.16px;font-size:4.8px;color:#e0e0e0;transform:scaleX(0.8199);">Display</div>
<div class="t" style="left:23.8px;top:461.31px;font-size:5.6px;color:#e8e8e8;transform:scaleX(0.7995);">Channel 1</div>
<div class="t" style="left:92.9px;top:461.56px;font-size:4.8px;color:#e0e0e0;transform:scaleX(0.8893);">1: Input 1</div>
<div class="t" style="left:24.3px;top:478.66px;font-size:4.8px;color:#e0e0e0;font-style:italic;transform:scaleX(0.8216);">Add a channel</div>
</body></html>
